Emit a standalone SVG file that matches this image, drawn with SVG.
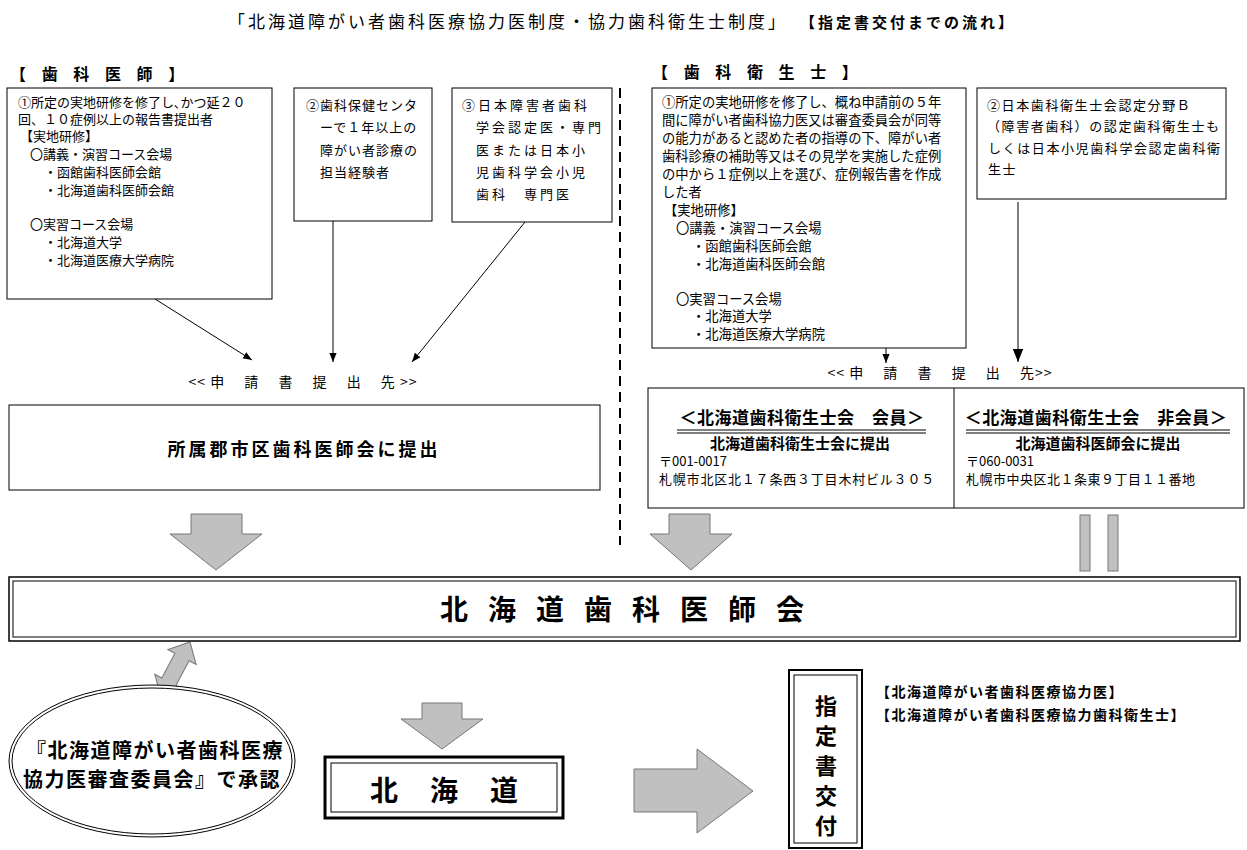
<svg xmlns="http://www.w3.org/2000/svg" width="1247" height="850" viewBox="0 0 1247 850">
<style>
text{font-family:"Noto Sans CJK JP","Noto Sans CJK SC",sans-serif;fill:#000}
.s{font-size:13px}
.b{font-weight:bold}
.box{fill:#fff;stroke:#000;stroke-width:1}
.ln{stroke:#000;stroke-width:1;fill:none}
.blk{fill:#c0c0c0;stroke:#777;stroke-width:1}
</style>
<defs>
<marker id="ah" viewBox="0 0 10 10" refX="10" refY="5" markerWidth="9" markerHeight="9" orient="auto"><path d="M0,1 L10,5 L0,9 Z" fill="#000"/></marker>
</defs>
<rect width="1247" height="850" fill="#fff"/>
<text x="228" y="28" font-size="17" letter-spacing="3">「北海道障がい者歯科医療協力医制度・協力歯科衛生士制度」</text>
<text x="800" y="28" font-size="15" class="b" letter-spacing="3">【指定書交付までの流れ】</text>
<text x="10" y="80" font-size="16" class="b" letter-spacing="6">【 歯 科 医 師 】</text>
<text x="652" y="78" font-size="16" class="b" letter-spacing="6">【 歯 科 衛 生 士 】</text>
<line x1="620" y1="88" x2="620" y2="545" stroke="#000" stroke-width="2" stroke-dasharray="10,6"/>

<g id="d1"><rect class="box" x="7" y="88" width="265" height="211"/>
<text class="s"><tspan x="18" y="107">①所定の実地研修を修了し､かつ延２０</tspan><tspan x="18" y="124">回、１０症例以上の報告書提出者</tspan><tspan x="20" y="141">【実地研修】</tspan><tspan x="30" y="159">〇講義・演習コース会場</tspan><tspan x="44" y="177">・函館歯科医師会館</tspan><tspan x="44" y="195">・北海道歯科医師会館</tspan><tspan x="30" y="229">〇実習コース会場</tspan><tspan x="44" y="247">・北海道大学</tspan><tspan x="44" y="265">・北海道医療大学病院</tspan></text></g>
<g id="d2"><rect class="box" x="294" y="88" width="138" height="133"/>
<text class="s" letter-spacing="1"><tspan x="306" y="110">②歯科保健センタ</tspan><tspan x="320" y="132">ーで１年以上の</tspan><tspan x="320" y="155">障がい者診療の</tspan><tspan x="320" y="177">担当経験者</tspan></text></g>
<g id="d3"><rect class="box" x="452" y="88" width="160" height="134"/>
<text class="s" letter-spacing="3"><tspan x="462" y="110">③日本障害者歯科</tspan><tspan x="476" y="132">学会認定医・専門</tspan><tspan x="476" y="155">医または日本小</tspan><tspan x="476" y="177">児歯科学会小児</tspan><tspan x="476" y="199">歯科　専門医</tspan></text></g>
<text x="303" y="387" font-size="14" text-anchor="middle" letter-spacing="1">&lt;&lt;  申　 請 　書　 提 　出　 先  &gt;&gt;</text>
<g id="d4"><rect class="box" x="9" y="405" width="591" height="85"/>
<text x="304" y="456" font-size="18" class="b" text-anchor="middle" letter-spacing="3">所属郡市区歯科医師会に提出</text></g>

<g id="h1"><rect class="box" x="652" y="88" width="314" height="260"/>
<text font-size="13.3"><tspan x="662" y="107">①所定の実地研修を修了し、概ね申請前の５年</tspan><tspan x="662" y="125">間に障がい者歯科協力医又は審査委員会が同等</tspan><tspan x="662" y="143">の能力があると認めた者の指導の下、障がい者</tspan><tspan x="662" y="161">歯科診療の補助等又はその見学を実施した症例</tspan><tspan x="662" y="179">の中から１症例以上を選び、症例報告書を作成</tspan><tspan x="662" y="197">した者</tspan><tspan x="664" y="215">【実地研修】</tspan><tspan x="676" y="233">〇講義・演習コース会場</tspan><tspan x="692" y="251">・函館歯科医師会館</tspan><tspan x="692" y="269">・北海道歯科医師会館</tspan><tspan x="676" y="304">〇実習コース会場</tspan><tspan x="692" y="321">・北海道大学</tspan><tspan x="692" y="339">・北海道医療大学病院</tspan></text></g>
<g id="h2"><rect class="box" x="977" y="88" width="249" height="111"/>
<text class="s" letter-spacing="1.6"><tspan x="987" y="110">②日本歯科衛生士会認定分野Ｂ</tspan><tspan x="987" y="131">（障害者歯科）の認定歯科衛生士も</tspan><tspan x="988" y="153">しくは日本小児歯科学会認定歯科衛</tspan><tspan x="988" y="174">生士</tspan></text></g>
<text x="940" y="378" font-size="14" text-anchor="middle" letter-spacing="1">&lt;&lt;  申　 請 　書　 提 　出　 先&gt;&gt;</text>
<g id="h3"><rect class="box" x="648" y="388" width="596" height="120"/><line class="ln" x1="954" y1="388" x2="954" y2="508"/>
<text x="802" y="424" font-size="17" class="b" text-anchor="middle" letter-spacing="0.5">＜北海道歯科衛生士会　会員＞</text>
<line class="ln" x1="677" y1="430" x2="926" y2="430"/><line class="ln" x1="677" y1="433" x2="926" y2="433"/>
<text x="800" y="449" font-size="15" class="b" text-anchor="middle">北海道歯科衛生士会に提出</text>
<text class="s" x="659" y="466">〒001-0017</text><text class="s" x="659" y="484" letter-spacing="0.8">札幌市北区北１７条西３丁目木村ビル３０５</text>
<text x="1096" y="424" font-size="17" class="b" text-anchor="middle" letter-spacing="0.5">＜北海道歯科衛生士会　非会員＞</text>
<line class="ln" x1="966" y1="430" x2="1230" y2="430"/><line class="ln" x1="966" y1="433" x2="1230" y2="433"/>
<text x="1098" y="449" font-size="15" class="b" text-anchor="middle">北海道歯科医師会に提出</text>
<text class="s" x="966" y="466">〒060-0031</text><text class="s" x="966" y="484" letter-spacing="0.5">札幌市中央区北１条東９丁目１１番地</text></g>

<g id="connectors">
<line class="ln" x1="155" y1="299" x2="252" y2="360" marker-end="url(#ah)"/>
<line class="ln" x1="333" y1="221" x2="333" y2="362" marker-end="url(#ah)"/>
<line class="ln" x1="525" y1="222" x2="412" y2="362" marker-end="url(#ah)"/>
<line class="ln" x1="886" y1="348" x2="886" y2="363" marker-end="url(#ah)"/>
<line x1="1018" y1="202" x2="1018" y2="362" stroke="#555" stroke-width="1.5" marker-end="url(#ah)"/>
<polygon class="blk" points="191,514 242,514 242,534 262,534 216,570 170,534 191,534"/>
<polygon class="blk" points="669,514 710,514 710,534 732,534 691,570 650,534 669,534"/>
<rect class="blk" x="1080" y="515" width="10" height="56"/><rect class="blk" x="1108" y="515" width="10" height="56"/>
<polygon class="blk" points="422,703 462,703 462,719 483,719 442,749 401,719 422,719"/>
<polygon class="blk" points="634,769 697,769 697,749 753,791 697,833 697,812 634,812"/>
<polygon class="blk" transform="translate(190,642) rotate(118)" points="0,0 17,-16 17,-8 45,-8 45,-16 62,0 45,16 45,8 17,8 17,16"/>
</g>

<g id="dental"><rect x="9" y="577" width="1231" height="64" fill="#fff" stroke="#000" stroke-width="1.5"/><rect x="13" y="581" width="1223" height="56" fill="none" stroke="#000" stroke-width="1"/>
<text x="632" y="620" font-size="28" class="b" text-anchor="middle" letter-spacing="20">北海道歯科医師会</text></g>
<g id="committee"><ellipse cx="152" cy="761" rx="143" ry="76" fill="#fff" stroke="#000" stroke-width="1"/><ellipse cx="152" cy="761" rx="140" ry="73" fill="none" stroke="#000" stroke-width="1"/>
<text font-size="20" class="b" text-anchor="middle" letter-spacing="1.5"><tspan x="155" y="758">『北海道障がい者歯科医療</tspan><tspan x="152" y="787">協力医審査委員会』で承認</tspan></text></g>
<g id="hokkaido"><rect x="325" y="757" width="238" height="61" fill="#fff" stroke="#000" stroke-width="3"/><rect x="331" y="763" width="226" height="49" fill="none" stroke="#000" stroke-width="1"/>
<text x="460" y="801" font-size="28" class="b" text-anchor="middle" letter-spacing="32">北海道</text></g>
<g id="issue"><rect x="789" y="670" width="73" height="178" fill="#fff" stroke="#000" stroke-width="2"/><rect x="794" y="675" width="63" height="168" fill="none" stroke="#000" stroke-width="1"/>
<text font-size="22" class="b" text-anchor="middle"><tspan x="826" y="714">指</tspan><tspan x="826" y="744">定</tspan><tspan x="826" y="774">書</tspan><tspan x="826" y="804">交</tspan><tspan x="826" y="834">付</tspan></text></g>
<text x="876" y="697" font-size="14" class="b" letter-spacing="1.5">【北海道障がい者歯科医療協力医】</text>
<text x="876" y="720" font-size="14" class="b" letter-spacing="1.5">【北海道障がい者歯科医療協力歯科衛生士】</text>
</svg>
